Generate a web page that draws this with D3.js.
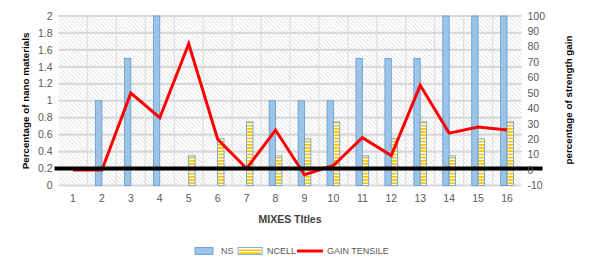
<!DOCTYPE html>
<html>
<head>
<meta charset="utf-8">
<script src="https://cdn.jsdelivr.net/npm/d3@7"></script>
<style>
body { margin: 0; background: #fff; }
text { font-family: "Liberation Sans", Arial, sans-serif; }
</style>
</head>
<body>
<div id="chart"></div>
<script>
var mixes = ["1","2","3","4","5","6","7","8","9","10","11","12","13","14","15","16"];
var nsValues = [0, 1, 1.5, 2, 0, 0, 0, 1, 1, 1, 1.5, 1.5, 1.5, 2, 2, 2];
var ncellValues = [0, 0, 0, 0, 0.35, 0.55, 0.75, 0.35, 0.55, 0.75, 0.35, 0.55, 0.75, 0.35, 0.55, 0.75];
var gainTensile = [0, 0, 50, 34, 82, 20, 1, 26, -3, 3, 21, 9.5, 55, 24, 28, 26];
var leftTicks = [0, 0.2, 0.4, 0.6, 0.8, 1, 1.2, 1.4, 1.6, 1.8, 2];
var rightTicks = [-10, 0, 10, 20, 30, 40, 50, 60, 70, 80, 90, 100];
var refLine = 0.2;
var legendKeys = ["NS", "NCELL", "GAIN TENSILE"];

var W = 597, H = 268;
var margin = { top: 16, right: 75.5, bottom: 82.5, left: 58.5 },
    width = W - margin.left - margin.right,
    height = H - margin.top - margin.bottom;

var svg = d3.select("#chart").append("svg")
    .attr("width", W).attr("height", H);

var defs = svg.append("defs");
// diagonal hatch of the plot area
var hatch = defs.append("pattern")
    .attr("id", "hatch").attr("patternUnits", "userSpaceOnUse")
    .attr("width", 3).attr("height", 3)
    .attr("patternTransform", "rotate(-45)");
hatch.append("rect").attr("width", 3).attr("height", 3).attr("fill", "#fff");
hatch.append("line").attr("x1", 0).attr("y1", 0).attr("x2", 0).attr("y2", 3)
    .attr("stroke", "#d2d2d2").attr("stroke-width", 1.1);

// horizontal stripes for NCELL
var stripes = defs.append("pattern")
    .attr("id", "stripes").attr("patternUnits", "userSpaceOnUse")
    .attr("width", 4).attr("height", 3.2);
stripes.append("rect").attr("width", 4).attr("height", 3.2).attr("fill", "#fff");
stripes.append("rect").attr("width", 4).attr("height", 1.7).attr("fill", "#ffc000");

var g = svg.append("g")
    .attr("transform", "translate(" + margin.left + "," + margin.top + ")");

var x = d3.scaleBand().domain(mixes).range([0, width]).padding(0);
var y = d3.scaleLinear().domain([0, 2]).range([height, 0]);
var y2 = d3.scaleLinear().domain([-10, 100]).range([height, 0]);

g.append("rect").attr("width", width).attr("height", height).attr("fill", "url(#hatch)");

// vertical grid at category boundaries
g.selectAll(".vgrid").data(mixes.slice(1))
    .enter().append("line")
    .attr("x1", function(d) { return x(d); }).attr("x2", function(d) { return x(d); })
    .attr("y1", 0).attr("y2", height)
    .attr("stroke", "#e0e0e0").attr("stroke-width", 1.3);

// horizontal grid
g.selectAll(".hgrid").data(leftTicks)
    .enter().append("line")
    .attr("x1", 0).attr("x2", width)
    .attr("y1", function(d) { return y(d); }).attr("y2", function(d) { return y(d); })
    .attr("stroke", "#d9d9d9").attr("stroke-width", 2.2);

var bw = x.bandwidth() * 0.22;

// NS bars
g.selectAll(".nsbar").data(mixes)
    .enter().append("rect")
    .attr("class", "nsbar")
    .attr("x", function(d) { return x(d) + x.bandwidth() / 2 - bw; })
    .attr("y", function(d, i) { return y(nsValues[i]); })
    .attr("width", bw)
    .attr("height", function(d, i) { return height - y(nsValues[i]); })
    .attr("fill", "#9dc3e6")
    .attr("stroke", "#5b9bd5").attr("stroke-width", 0.8)
    .style("display", function(d, i) { return nsValues[i] > 0 ? null : "none"; });

// NCELL bars
g.selectAll(".ncbar").data(mixes)
    .enter().append("rect")
    .attr("class", "ncbar")
    .attr("x", function(d) { return x(d) + x.bandwidth() / 2; })
    .attr("y", function(d, i) { return y(ncellValues[i]); })
    .attr("width", bw)
    .attr("height", function(d, i) { return height - y(ncellValues[i]); })
    .attr("fill", "url(#stripes)")
    .attr("stroke", "#5b9bd5").attr("stroke-width", 0.8)
    .style("display", function(d, i) { return ncellValues[i] > 0 ? null : "none"; });

// gain tensile line
var line = d3.line()
    .x(function(d, i) { return x(mixes[i]) + x.bandwidth() / 2; })
    .y(function(d) { return y2(d); });
g.append("path").datum(gainTensile)
    .attr("d", line)
    .attr("fill", "none").attr("stroke", "#ff0000").attr("stroke-width", 3)
    .attr("stroke-linejoin", "miter");

// black reference line
g.append("line")
    .attr("x1", -4).attr("x2", width + 21)
    .attr("y1", y(refLine)).attr("y2", y(refLine))
    .attr("stroke", "#000").attr("stroke-width", 4);

// left axis labels
g.selectAll(".ltick").data(leftTicks)
    .enter().append("text")
    .attr("x", -6).attr("y", function(d) { return y(d); })
    .attr("dy", "0.35em").attr("text-anchor", "end")
    .style("font-size", "10.5px").attr("fill", "#595959")
    .text(function(d) { return d3.format("")(d); });

// right axis labels
g.selectAll(".rtick").data(rightTicks)
    .enter().append("text")
    .attr("x", width + 6).attr("y", function(d) { return y2(d); })
    .attr("dy", "0.35em").attr("text-anchor", "start")
    .style("font-size", "10.5px").attr("fill", "#595959")
    .text(function(d) { return d; });

// x labels
g.selectAll(".xtick").data(mixes)
    .enter().append("text")
    .attr("x", function(d) { return x(d) + x.bandwidth() / 2; })
    .attr("y", height + 16)
    .attr("text-anchor", "middle")
    .style("font-size", "10.5px").attr("fill", "#595959")
    .text(function(d) { return d; });

// axis titles
svg.append("text")
    .attr("transform", "translate(29,101) rotate(-90)")
    .attr("text-anchor", "middle")
    .style("font-size", "9.8px").style("font-weight", "700").attr("fill", "#000")
    .text("Percentage of nano materials");

svg.append("text")
    .attr("transform", "translate(572,100) rotate(-90)")
    .attr("text-anchor", "middle")
    .style("font-size", "9.8px").style("font-weight", "700").attr("fill", "#000")
    .text("percentage of strength gain");

svg.append("text")
    .attr("x", 290).attr("y", 223)
    .attr("text-anchor", "middle")
    .style("font-size", "10.5px").style("font-weight", "700").attr("fill", "#404040")
    .text("MIXES TItles");

// legend
var legendX = [195, 238, 297];
var legend = svg.selectAll(".legend").data(legendKeys)
    .enter().append("g")
    .attr("transform", function(d, i) { return "translate(" + legendX[i] + ",251)"; });

legend.each(function(d, i) {
    var s = d3.select(this);
    if (i == 0) {
        s.append("rect").attr("x", 0).attr("y", -3.5).attr("width", 18).attr("height", 7)
            .attr("fill", "#9dc3e6").attr("stroke", "#5b9bd5").attr("stroke-width", 0.8);
    } else if (i == 1) {
        s.append("rect").attr("x", 0).attr("y", -3.5).attr("width", 24).attr("height", 7)
            .attr("fill", "#fff").attr("stroke", "#5b9bd5").attr("stroke-width", 0.8);
        s.append("rect").attr("x", 1).attr("y", -1.5).attr("width", 22).attr("height", 1.6).attr("fill", "#ffc000");
        s.append("rect").attr("x", 1).attr("y", 1.3).attr("width", 22).attr("height", 1.6).attr("fill", "#ffc000");
    } else {
        s.append("line").attr("x1", 0).attr("x2", 26).attr("y1", 0).attr("y2", 0)
            .attr("stroke", "#ff0000").attr("stroke-width", 3);
    }
    var off = [26, 29, 30][i];
    s.append("text").attr("x", off).attr("y", 0).attr("dy", "0.35em")
        .style("font-size", "9px").attr("fill", "#595959").text(d);
});
</script>
</body>
</html>
